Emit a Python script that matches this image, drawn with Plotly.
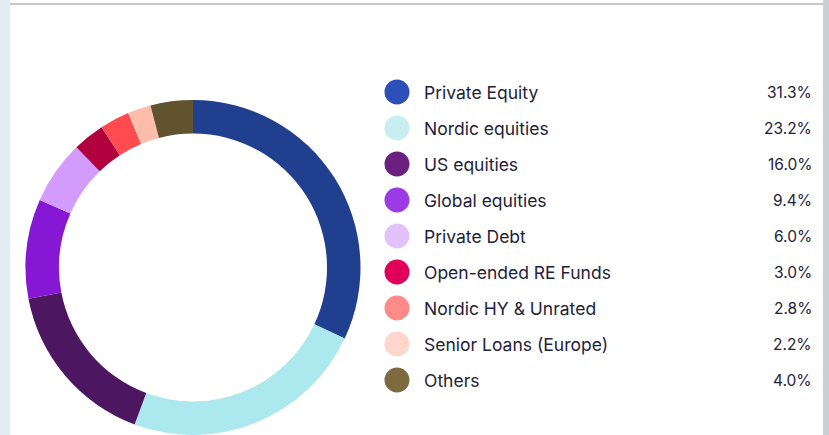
import plotly.graph_objects as go

categories = ["Private Equity", "Nordic equities", "US equities", "Global equities",
              "Private Debt", "Open-ended RE Funds", "Nordic HY & Unrated",
              "Senior Loans (Europe)", "Others"]
values = [31.3, 23.2, 16.0, 9.4, 6.0, 3.0, 2.8, 2.2, 4.0]
pct_labels = ["31.3%", "23.2%", "16.0%", "9.4%", "6.0%", "3.0%", "2.8%", "2.2%", "4.0%"]
ring_colors = ["#213f8f", "#abe9ee", "#4d1660", "#8617d4", "#d39cfc",
               "#b1003d", "#ff4b4f", "#ffbcaa", "#62532f"]
dot_colors = ["#2c4fba", "#c9eef0", "#6a1f81", "#9b3be6", "#e2c3f9",
              "#e0005a", "#ff8a8a", "#ffd6cc", "#7d6a3e"]

W, H = 829, 435
FONT = "Inter, Roboto, sans-serif"
TXT = "#22223a"

fig = go.Figure()

fig.add_trace(go.Pie(
    labels=categories, values=values, sort=False, direction="clockwise",
    rotation=0, hole=0.80, textinfo="none", hoverinfo="label+percent",
    marker=dict(colors=ring_colors, line=dict(width=0)),
    domain=dict(x=[25 / W, 361 / W], y=[0.0, 335 / H]),
    showlegend=False,
))

rows = list(range(len(categories)))
fig.add_trace(go.Scatter(
    x=[397] * len(rows), y=rows, mode="markers",
    marker=dict(size=25, color=dot_colors, line=dict(width=0)),
    hoverinfo="skip", showlegend=False,
))

for i, (c, p) in enumerate(zip(categories, pct_labels)):
    fig.add_annotation(x=422, y=i, xref="x", yref="y", text=c, showarrow=False,
                       xanchor="left", yanchor="middle",
                       font=dict(family=FONT, size=17.5, color=TXT))
    fig.add_annotation(x=814, y=i, xref="x", yref="y", text=p, showarrow=False,
                       xanchor="right", yanchor="middle",
                       font=dict(family=FONT, size=15.5, color=TXT))

top_px, step = 92, 36
fig.update_layout(
    width=W, height=H, margin=dict(l=0, r=0, t=0, b=0),
    paper_bgcolor="white", plot_bgcolor="rgba(0,0,0,0)",
    xaxis=dict(range=[0, W], visible=False, fixedrange=True),
    yaxis=dict(range=[(H - top_px) / step, -top_px / step], visible=False, fixedrange=True),
    shapes=[
        dict(type="rect", xref="paper", yref="paper", x0=0, x1=10 / W, y0=0, y1=1,
             fillcolor="#e4ecf3", line=dict(width=0), layer="below"),
        dict(type="line", xref="paper", yref="paper", x0=10 / W, x1=823 / W,
             y0=1 - 4 / H, y1=1 - 4 / H, line=dict(color="#c8c8c8", width=2)),
        dict(type="rect", xref="paper", yref="paper", x0=823 / W, x1=1, y0=0, y1=1,
             fillcolor="#c8d0d5", line=dict(width=0)),
    ],
)

fig.write_html("out.html", config={"displayModeBar": False},
               post_script="document.body.style.margin='0';document.body.style.overflow='hidden';")
